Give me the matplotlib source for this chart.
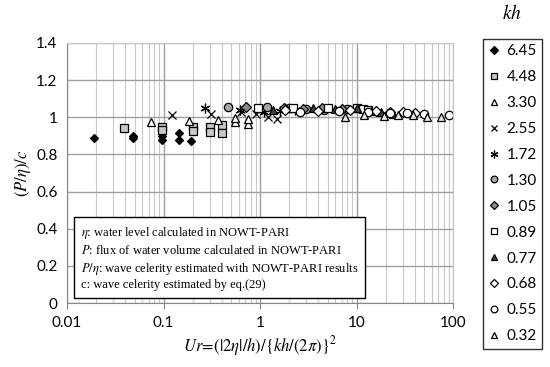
import matplotlib
matplotlib.use('Agg')
import matplotlib.pyplot as plt
from matplotlib.ticker import FixedLocator, LogLocator, NullFormatter

plt.rcParams['mathtext.fontset'] = 'stix'

# kh series: Ur values and (P/eta)/c values
labels = ['6.45', '4.48', '3.30', '2.55', '1.72', '1.30',
          '1.05', '0.89', '0.77', '0.68', '0.55', '0.32']

ur_645 = [0.019, 0.048, 0.048, 0.097, 0.097, 0.145, 0.145, 0.19]
cr_645 = [0.89, 0.89, 0.90, 0.88, 0.90, 0.915, 0.88, 0.87]

ur_448 = [0.039, 0.097, 0.097, 0.20, 0.20, 0.30, 0.30, 0.40, 0.40]
cr_448 = [0.94, 0.95, 0.93, 0.95, 0.925, 0.95, 0.92, 0.96, 0.915]

ur_330 = [0.074, 0.185, 0.37, 0.55, 0.55, 0.74, 0.74]
cr_330 = [0.975, 0.98, 0.985, 0.975, 0.995, 0.965, 0.99]

ur_255 = [0.123, 0.31, 0.63, 0.90, 1.2, 1.5]
cr_255 = [1.01, 1.02, 1.03, 1.02, 1.0, 0.99]

ur_172 = [0.27, 0.62, 1.1, 1.6, 2.3]
cr_172 = [1.05, 1.04, 1.03, 1.035, 1.04]

ur_130 = [0.47, 1.17, 2.0, 3.0, 4.6, 8.0]
cr_130 = [1.056, 1.055, 1.05, 1.045, 1.04, 1.045]

ur_105 = [0.72, 1.75, 2.8, 4.4, 7.0]
cr_105 = [1.055, 1.05, 1.045, 1.05, 1.045]

ur_089 = [0.96, 2.2, 5.1, 10.0, 11.5, 13.0]
cr_089 = [1.05, 1.05, 1.05, 1.05, 1.045, 1.04]

ur_077 = [1.37, 3.5, 6.0, 10.0, 14.0, 18.0, 24.0]
cr_077 = [1.04, 1.05, 1.045, 1.05, 1.035, 1.03, 1.02]

ur_068 = [1.8, 4.0, 8.5, 16.0, 22.0, 30.0, 40.0]
cr_068 = [1.04, 1.035, 1.04, 1.035, 1.03, 1.03, 1.025]

ur_055 = [2.6, 6.5, 13.0, 22.0, 33.0, 50.0, 90.0]
cr_055 = [1.03, 1.035, 1.03, 1.025, 1.025, 1.02, 1.01]

ur_032 = [7.6, 12.0, 19.0, 27.0, 38.0, 54.0, 74.0]
cr_032 = [1.0, 1.01, 1.005, 1.01, 1.01, 1.0, 1.0]

series = [(ur_645, cr_645), (ur_448, cr_448), (ur_330, cr_330), (ur_255, cr_255),
          (ur_172, cr_172), (ur_130, cr_130), (ur_105, cr_105), (ur_089, cr_089),
          (ur_077, cr_077), (ur_068, cr_068), (ur_055, cr_055), (ur_032, cr_032)]

# marker, face colour, size
styles = [('D', 'black', 4.5), ('s', '#c8c8c8', 6), ('^', 'white', 6), ('x', 'black', 6),
          ((6, 2, 0), 'black', 7), ('o', '#a6a6a6', 6), ('D', '#8c8c8c', 5), ('s', 'white', 6),
          ('^', '#404040', 6), ('D', 'white', 5), ('o', 'white', 6), ('^', '#e8e8e8', 6)]

fig = plt.figure(figsize=(5.5, 3.67), dpi=100)
ax = fig.add_axes([0.122, 0.174, 0.702, 0.709])

for (x, y), (m, fc, ms), lab in zip(series, styles, labels):
    ax.plot(x, y, linestyle='none', marker=m, markersize=ms, markerfacecolor=fc,
            markeredgecolor='black', color='black', markeredgewidth=0.9, label=lab)

ax.set_xscale('log')
ax.set_xlim(0.01, 100)
ax.set_ylim(0, 1.4)
ax.xaxis.set_major_locator(FixedLocator([0.01, 0.1, 1, 10, 100]))
ax.set_xticklabels(['0.01', '0.1', '1', '10', '100'])
ax.xaxis.set_minor_locator(LogLocator(base=10, subs=range(2, 10)))
ax.xaxis.set_minor_formatter(NullFormatter())
ax.set_yticks([0, 0.2, 0.4, 0.6, 0.8, 1.0, 1.2, 1.4])
ax.set_yticklabels(['0', '0.2', '0.4', '0.6', '0.8', '1', '1.2', '1.4'])

ax.grid(True, which='major', color='#a0a0a0', linewidth=1.0)
ax.grid(True, which='minor', axis='x', color='#c8c8c8', linewidth=0.8)
ax.set_axisbelow(True)
for side in ['top', 'right']:
    ax.spines[side].set_color('#c8c8c8')
for side in ['left', 'bottom']:
    ax.spines[side].set_color('#868686')
ax.tick_params(axis='x', which='major', direction='out', length=4, color='#868686',
               labelsize=11, pad=5)
ax.tick_params(axis='x', which='minor', length=0)
ax.tick_params(axis='y', length=0, labelsize=11, pad=7)
for t in ax.get_xticklabels() + ax.get_yticklabels():
    t.set_fontfamily('Lato')

ax.set_ylabel(r'$(P/\eta)/c$', fontsize=12, labelpad=2)
ax.set_xlabel(r'$Ur\!=\!(|2\eta|/h)/\{kh/(2\pi)\}^2$', fontsize=12, labelpad=3)

note = (r'$\eta$: water level calculated in NOWT-PARI' '\n'
        r'$P$: flux of water volume calculated in NOWT-PARI' '\n'
        r'$P/\eta$: wave celerity estimated with NOWT-PARI results' '\n'
        'c: wave celerity estimated by eq.(29)')
ax.text(0.035, 0.045, note, transform=ax.transAxes, fontsize=9,
        family='Liberation Serif', linespacing=1.3, va='bottom', ha='left',
        bbox=dict(boxstyle='square,pad=0.55', facecolor='white', edgecolor='black',
                  linewidth=1.0))

leg = fig.legend(loc='upper left', bbox_to_anchor=(0.864, 0.915), frameon=True,
                 fancybox=False, edgecolor='black', prop={'family': 'Lato', 'size': 11},
                 labelspacing=0.78, handlelength=0.8, handletextpad=0.4,
                 borderpad=0.35, markerscale=0.8)
leg.get_frame().set_linewidth(1.0)

fig.text(0.931, 0.962, r'$kh$', fontsize=14, ha='center', va='center')

fig.savefig('out.png', dpi=100)
